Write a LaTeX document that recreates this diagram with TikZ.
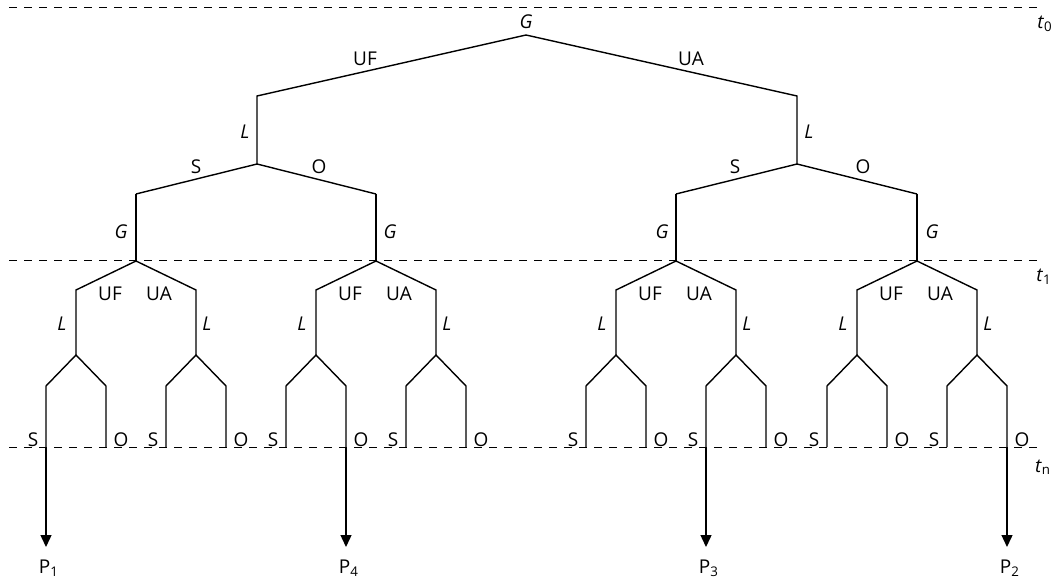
\documentclass[tikz,border=0pt]{standalone}
\usepackage{fontspec}
\setmainfont{Open Sans}
\usetikzlibrary{arrows.meta}

\tikzset{
  timeline/.style={line width=0.5pt,dash pattern=on 4pt off 3.5pt},
  outcome/.style={-{Triangle[length=6pt,width=5.5pt]}},
  lab/.style={inner sep=1pt,font=\fontsize{9.5}{11}\selectfont}
}

\begin{document}
\begin{tikzpicture}[x=0.5pt,y=-0.5pt,line width=0.7pt]
  \useasboundingbox (0,0) rectangle (1059,582);
  % time lines
  \draw[timeline] (9,8)--(1042,8);
  \draw[timeline] (9,261)--(1042,261);
  \draw[timeline] (9,447)--(1042,447);
  \node[lab] (t0) at (1045,24) {\textit{t}\textsubscript{0}};
  \node[lab] (t1) at (1044,277) {\textit{t}\textsubscript{1}};
  \node[lab] (tn) at (1043,467) {\textit{t}\textsubscript{n}};
  % first generation
  \coordinate (root) at (526,35);
  \coordinate (uf) at (257,96);
  \coordinate (ua) at (797,96);
  \coordinate (Lf) at (257,164);
  \coordinate (La) at (797,164);
  \draw (Lf)--(uf)--(root)--(ua)--(La);
  \node[lab] (G) at (526,22) {\textit{G}};
  \node[lab] (UF) at (365,59) {UF};
  \node[lab] (UA) at (691,59) {UA};
  \node[lab] (Lfl) at (245,132) {\textit{L}};
  \node[lab] (Lal) at (809,132) {\textit{L}};
  % S and O of the first generation
  \foreach \r [count=\i] in {136,376,676,917}
    \coordinate (s\i) at (\r,194);
  \draw (s1)--(Lf)--(s2);
  \draw (s3)--(La)--(s4);
  \node[lab] (S1) at (196,167) {S};
  \node[lab] (O1) at (319,167) {O};
  \node[lab] (S2) at (735,167) {S};
  \node[lab] (O2) at (863,167) {O};
  % second generation
  \foreach \r/\gx [count=\i] in {136/-15,376/14,676/-14,917/15} {
    \coordinate (g\i) at (\r,261);
    \coordinate (g\i-uf) at (\r-60,290);
    \coordinate (g\i-ua) at (\r+60,290);
    \coordinate (L\i-f) at (\r-60,355);
    \coordinate (L\i-a) at (\r+60,355);
    \draw (s\i)--(g\i);
    \draw (L\i-f)--(g\i-uf)--(g\i)--(g\i-ua)--(L\i-a);
    \node[lab] (G\i) at (\r+\gx,232) {\textit{G}};
    \node[lab] (UF\i) at (\r-26,294) {UF};
    \node[lab] (UA\i) at (\r+23,294) {UA};
    \node[lab] (Lf\i) at (\r-74,324) {\textit{L}};
    \node[lab] (La\i) at (\r+71,324) {\textit{L}};
    \foreach \q/\m in {f/-1,a/1} {
      \pgfmathsetmacro\c{\r+60*\m}
      \coordinate (L\i-\q-sc) at (\c-30,386);
      \coordinate (L\i-\q-oc) at (\c+30,386);
      \coordinate (L\i-\q-s) at (\c-30,447);
      \coordinate (L\i-\q-o) at (\c+30,447);
      \draw (L\i-\q-s)--(L\i-\q-sc)--(L\i-\q)--(L\i-\q-oc)--(L\i-\q-o);
      \node[lab] (S\i\q) at (\c-43,440) {S};
      \node[lab] (O\i\q) at (\c+45,440) {O};
    }
  }
  % outcomes
  \coordinate (p1) at (46,547);
  \coordinate (p4) at (346,547);
  \coordinate (p3) at (706,547);
  \coordinate (p2) at (1007,547);
  \draw[outcome] (L1-f-s)--(p1);
  \draw[outcome] (L2-f-o)--(p4);
  \draw[outcome] (L3-a-s)--(p3);
  \draw[outcome] (L4-a-o)--(p2);
  \node[lab] (P1) at (49,568) {P\textsubscript{1}};
  \node[lab] (P4) at (349,568) {P\textsubscript{4}};
  \node[lab] (P3) at (709,568) {P\textsubscript{3}};
  \node[lab] (P2) at (1010,568) {P\textsubscript{2}};
\end{tikzpicture}
\end{document}
